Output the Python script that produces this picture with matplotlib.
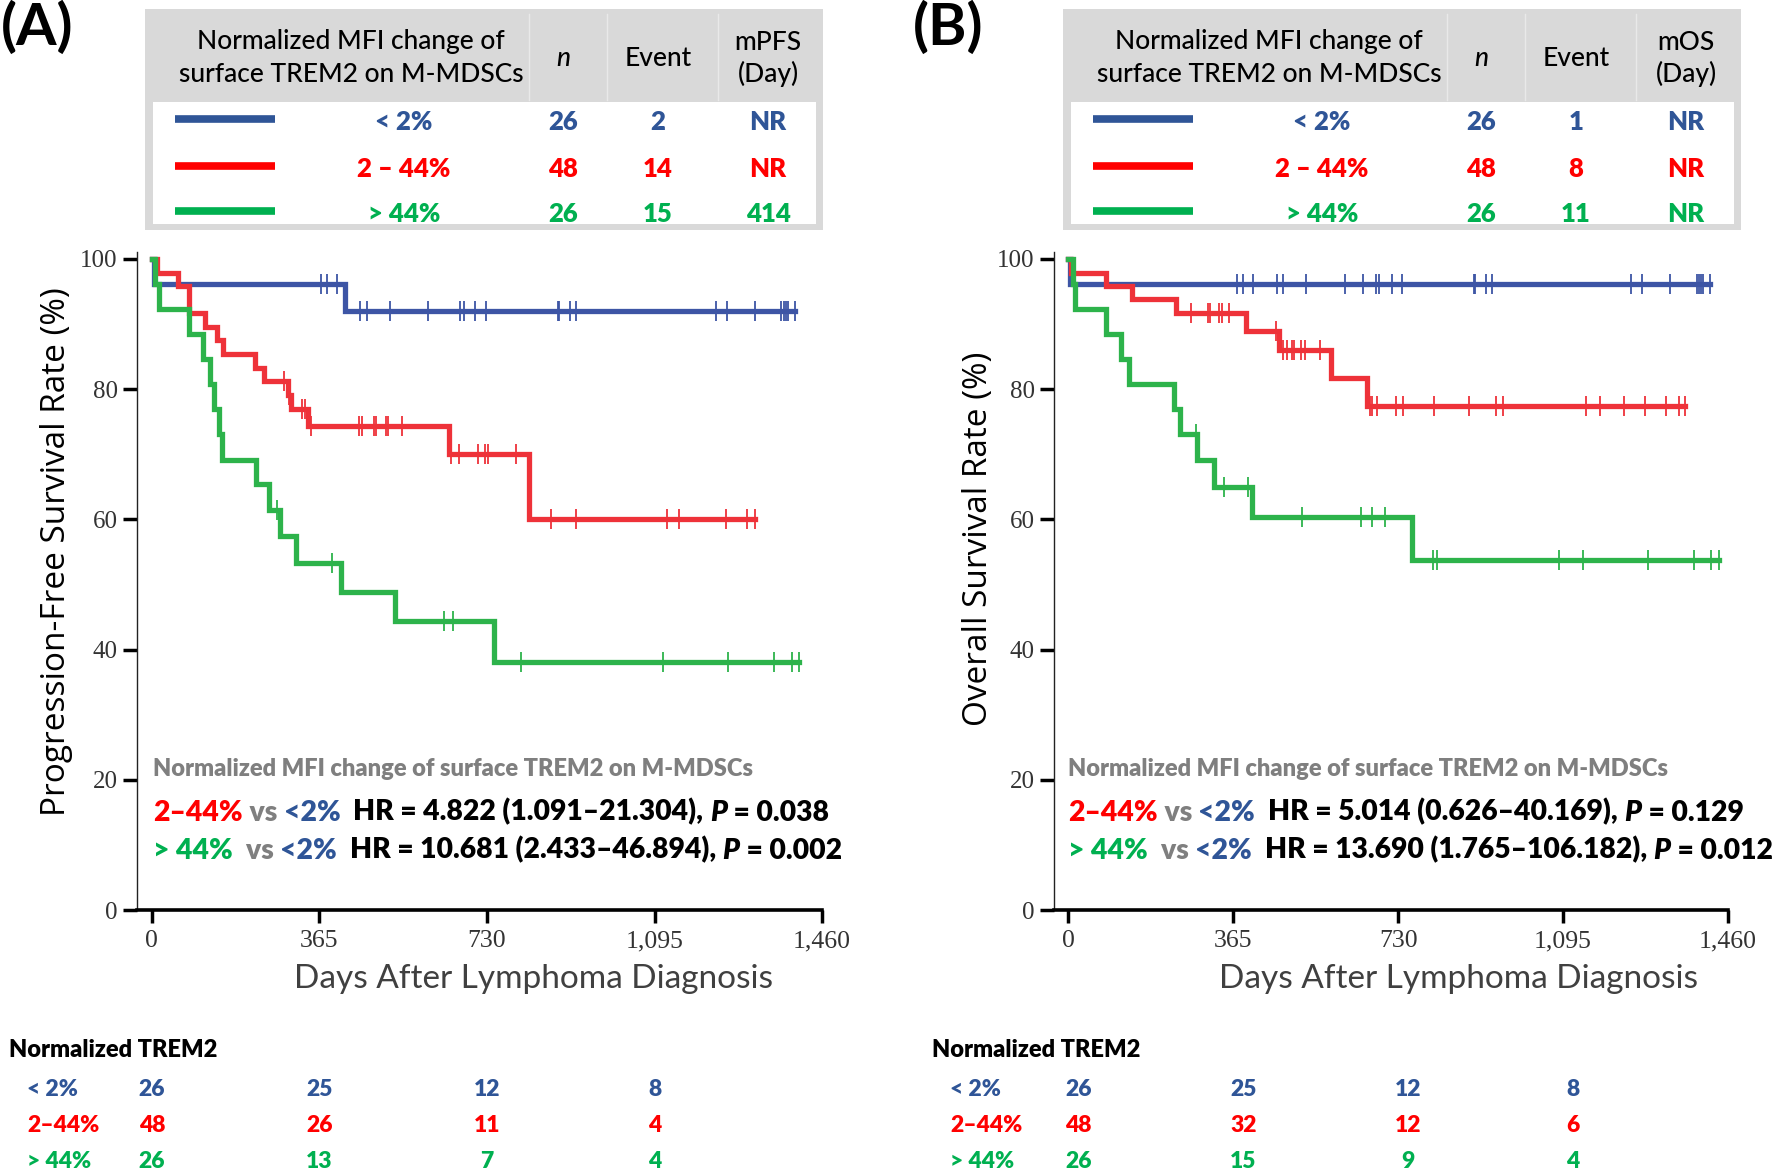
import matplotlib
matplotlib.use("Agg")
import matplotlib.pyplot as plt
import numpy as np
from matplotlib.patches import Rectangle
from matplotlib.offsetbox import TextArea, HPacker, AnchoredOffsetbox
from matplotlib import transforms

# ---- data ----
groups = ["< 2%", "2 \u2013 44%", "> 44%"]
risk_groups = ["< 2%", "2\u201344%", "> 44%"]
n_pat = [26, 48, 26]

# panel A: progression-free survival (step times in days, survival %)
pfs_low_t = [0, 4, 421]
pfs_low_s = [100, 96.2, 92.0]
pfs_low_c = [369, 381, 404, 454, 468, 518, 602, 672, 679, 704, 728, 885, 887, 911, 923,
             1228, 1252, 1314, 1370, 1378, 1382, 1385, 1400]
pfs_mid_t = [0, 11, 57, 81, 115, 141, 154, 224, 244, 297, 304, 341, 647, 821]
pfs_mid_s = [100, 97.9, 95.8, 91.7, 89.6, 87.5, 85.4, 83.3, 81.2, 79.1, 76.9, 74.3, 70.1, 60.1]
pfs_mid_c = [287, 299, 327, 333, 346, 452, 458, 484, 489, 509, 514, 545, 652, 670, 711,
             726, 732, 794, 870, 924, 1121, 1149, 1251, 1296, 1313]
pfs_high_t = [0, 6, 16, 81, 112, 126, 135, 146, 152, 226, 255, 278, 313, 411, 530, 746]
pfs_high_s = [100, 96.2, 92.3, 88.5, 84.6, 80.8, 76.9, 73.1, 69.2, 65.4, 61.5, 57.4, 53.3,
              48.9, 44.4, 38.1]
pfs_high_c = [273, 393, 637, 655, 803, 1114, 1254, 1355, 1395, 1410]

# panel B: overall survival
os_low_t = [0, 3]
os_low_s = [100, 96.2]
os_low_c = [374, 386, 408, 462, 476, 527, 612, 653, 682, 688, 716, 739, 897, 900, 925,
            937, 1245, 1270, 1332, 1391, 1397, 1400, 1404, 1420]
os_mid_t = [0, 5, 82, 141, 238, 393, 466, 582, 661]
os_mid_s = [100, 97.9, 95.8, 93.8, 91.7, 88.9, 86.0, 81.7, 77.4]
os_mid_c = [272, 308, 314, 333, 339, 356, 460, 474, 483, 494, 500, 515, 523, 556, 667,
            673, 683, 726, 740, 810, 887, 946, 963, 1147, 1177, 1231, 1276, 1324, 1352, 1366]
os_high_t = [0, 9, 15, 82, 116, 135, 233, 248, 285, 322, 407, 760]
os_high_s = [100, 96.2, 92.3, 88.5, 84.6, 80.8, 76.9, 73.1, 69.2, 65.0, 60.4, 53.8]
os_high_c = [282, 345, 398, 517, 647, 672, 700, 808, 816, 1087, 1140, 1284, 1386, 1423, 1440]

pfs_events = [2, 14, 15]
pfs_median = ["NR", "NR", "414"]
os_events = [1, 8, 11]
os_median = ["NR", "NR", "NR"]

risk_days = [0, 365, 730, 1095]
pfs_risk = [[26, 25, 12, 8], [48, 26, 11, 4], [26, 13, 7, 4]]
os_risk = [[26, 25, 12, 8], [48, 32, 12, 6], [26, 15, 9, 4]]

pfs_hr = [("HR = 4.822 (1.091\u201321.304), ", " = 0.038"),
          ("HR = 10.681 (2.433\u201346.894), ", " = 0.002")]
os_hr = [("HR = 5.014 (0.626\u201340.169), ", " = 0.129"),
         ("HR = 13.690 (1.765\u2013106.182), ", " = 0.012")]

x_ticks = [0, 365, 730, 1095, 1460]
x_ticklabels = ["0", "365", "730", "1,095", "1,460"]

# ---- style ----
W, H = 1773, 1170
CAL = ["Lato", "DejaVu Sans"]
LINE_COL = ["#3D55A5", "#EE3239", "#2DB34B"]
TXT_COL = ["#2F5597", "#FF0000", "#00B050"]
GRAY = "#7F7F7F"
BOLD = "heavy"

fig = plt.figure(figsize=(W / 100, H / 100), dpi=100)

ov = fig.add_axes([0, 0, 1, 1])
ov.set_xlim(0, W)
ov.set_ylim(H, 0)
ov.axis("off")
ov.patch.set_alpha(0)
ov.set_zorder(10)


def rich(x, y, parts, size):
    boxes = []
    for txt, col, style in parts:
        boxes.append(TextArea(txt, textprops=dict(color=col, fontsize=size, fontweight=BOLD,
                                                  fontstyle=style, family=CAL)))
    pk = HPacker(children=boxes, align="baseline", pad=0, sep=0)
    ab = AnchoredOffsetbox(loc="center left", child=pk, pad=0, borderpad=0, frameon=False,
                           bbox_to_anchor=(x, y), bbox_transform=ov.transData)
    ov.add_artist(ab)


def km(ax, t, s, c, col):
    t_end = max(max(c), t[-1])
    ax.step(list(t) + [t_end], list(s) + [s[-1]], where="post", color=col, lw=3.8,
            solid_joinstyle="miter", zorder=3)
    idx = np.searchsorted(t, c, side="right") - 1
    ys = np.array(s)[idx]
    ax.plot(c, ys, ls="none", marker="|", ms=14, mew=1.3, color=col, zorder=4)


def header_table(x0, colname, events, medians):
    ov.add_patch(Rectangle((x0, 9), 678, 221, fc="#D9D9D9", ec="none"))
    ov.add_patch(Rectangle((x0 + 8, 102), 663, 122, fc="white", ec="none"))
    for xs in (384, 462, 573):
        ov.plot([x0 + xs, x0 + xs], [14, 100], color="#E9E9E9", lw=1)
    hd = dict(fontsize=19, family=CAL, fontweight="medium", color="black", ha="center",
              va="center")
    ov.text(x0 + 206, 42, "Normalized MFI change of", **hd)
    ov.text(x0 + 206, 74, "surface TREM2 on M-MDSCs", **hd)
    ov.text(x0 + 418, 59, "n", style="italic", **hd)
    ov.text(x0 + 513, 59, "Event", **hd)
    ov.text(x0 + 623, 42, colname, **hd)
    ov.text(x0 + 623, 74, "(Day)", **hd)
    for i, yy in enumerate([119, 166, 211]):
        ov.plot([x0 + 30, x0 + 130], [yy, yy], color=TXT_COL[i], lw=5.5,
                solid_capstyle="butt")
        vals = [groups[i], str(n_pat[i]), str(events[i]), medians[i]]
        for xx, v in zip([259, 418, 513, 623], vals):
            ov.text(x0 + xx, yy + 3, v, fontsize=18.5, fontweight=BOLD, family=CAL,
                    color=TXT_COL[i], ha="center", va="center")


def risk_table(ax, x0, risk, shift):
    ov.text(x0, 1050, "Normalized TREM2", fontsize=17, fontweight=BOLD, family=CAL,
            color="black", ha="left", va="center")
    tr = transforms.blended_transform_factory(ax.transData, ov.transData)
    for i, yy in enumerate([1090, 1126, 1162]):
        ov.text(x0 + 18, yy, risk_groups[i], fontsize=16.5, fontweight=BOLD, family=CAL,
                color=TXT_COL[i], ha="left", va="center")
        for d, v in zip(risk_days, risk[i]):
            t = ax.text(d, yy, str(v), fontsize=16.5, fontweight=BOLD, family=CAL,
                        color=TXT_COL[i], ha="center", va="center", transform=tr)
            t.set_transform(tr + transforms.Affine2D().translate(shift, 0))


panels = [
    dict(rect=[0.0774, 0.2222, 0.3863, 0.5620], label="(A)", lx=37,
         ylabel="Progression-Free Survival Rate (%)", yfs=24, ylc=(-0.094, 0.545), xlc=0.578,
         curves=[(pfs_low_t, pfs_low_s, pfs_low_c), (pfs_mid_t, pfs_mid_s, pfs_mid_c),
                 (pfs_high_t, pfs_high_s, pfs_high_c)],
         tx=145, col="mPFS", ev=pfs_events, med=pfs_median, hr=pfs_hr, ann_x=153,
         risk=pfs_risk, rx=9, shift=0),
    dict(rect=[0.5945, 0.2222, 0.3800, 0.5620], label="(B)", lx=948,
         ylabel="Overall Survival Rate (%)", yfs=24, ylc=(-0.088, 0.564), xlc=0.601,
         curves=[(os_low_t, os_low_s, os_low_c), (os_mid_t, os_mid_s, os_mid_c),
                 (os_high_t, os_high_s, os_high_c)],
         tx=1063, col="mOS", ev=os_events, med=os_median, hr=os_hr, ann_x=1068,
         risk=os_risk, rx=932, shift=10),
]

for p in panels:
    ax = fig.add_axes(p["rect"])
    for (t, s, c), col in zip(p["curves"], LINE_COL):
        km(ax, t, s, c, col)
    ax.set_xlim(-32, 1460)
    ax.set_ylim(0, 101)
    ax.spines["top"].set_visible(False)
    ax.spines["right"].set_visible(False)
    ax.spines["left"].set_linewidth(1.0)
    ax.spines["left"].set_color("#222222")
    ax.spines["bottom"].set_linewidth(2.6)
    ax.set_xticks(x_ticks)
    ax.set_xticklabels(x_ticklabels)
    ax.set_yticks([0, 20, 40, 60, 80, 100])
    ax.tick_params(axis="both", width=2.5, labelcolor="#333333")
    ax.tick_params(axis="y", length=10, labelsize=18, pad=4)
    ax.tick_params(axis="x", length=9.5, labelsize=18.5, pad=5)
    for lab in ax.get_xticklabels() + ax.get_yticklabels():
        lab.set_family("Liberation Serif")
    ax.set_ylabel(p["ylabel"], fontsize=p["yfs"], family="Open Sans")
    ax.yaxis.set_label_coords(*p["ylc"])
    ax.set_xlabel("Days After Lymphoma Diagnosis", fontsize=24, family=CAL, color="#404040",
                  va="center")
    ax.xaxis.set_label_coords(p["xlc"], -0.105)

    ov.text(p["lx"], 28, p["label"], fontsize=42, fontweight="bold", family=CAL,
            ha="center", va="center")
    header_table(p["tx"], p["col"], p["ev"], p["med"])

    x = p["ann_x"]
    ov.text(x, 769, "Normalized MFI change of surface TREM2 on M-MDSCs", fontsize=17,
            fontweight=BOLD, family=CAL, color=GRAY, ha="left", va="center")
    rich(x, 812, [("2\u201344%", TXT_COL[1], "normal"), (" vs ", GRAY, "normal"),
                  ("<2%", TXT_COL[0], "normal"), ("  " + p["hr"][0][0], "black", "normal"),
                  ("P", "black", "italic"), (p["hr"][0][1], "black", "normal")], 20.4)
    rich(x, 850, [("> 44%", TXT_COL[2], "normal"), ("  vs ", GRAY, "normal"),
                  ("<2%", TXT_COL[0], "normal"), ("  " + p["hr"][1][0], "black", "normal"),
                  ("P", "black", "italic"), (p["hr"][1][1], "black", "normal")], 20.4)

    risk_table(ax, p["rx"], p["risk"], p["shift"])

fig.savefig("out.png", dpi=100)
